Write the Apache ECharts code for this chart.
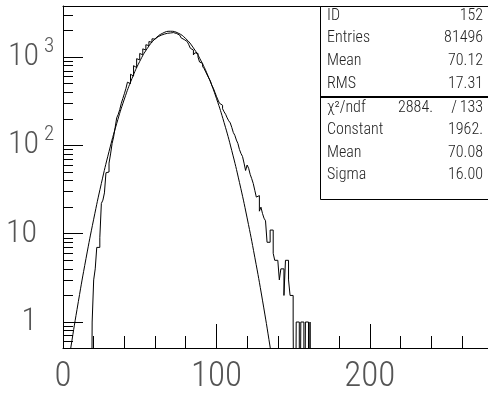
<!DOCTYPE html>
<html><head><meta charset="utf-8">
<script src="https://cdn.jsdelivr.net/npm/echarts@6/dist/echarts.min.js"></script>
<style>html,body{margin:0;padding:0;background:#fff}#c{width:488px;height:400px}</style>
</head><body><div id="c"></div>
<script>
// ---- data ----
const BIN_START = 0;      // first bin low edge
const BIN_WIDTH = 1;      // bin width
const histValues = [
  0,0,0,0,0,0,0,0,0,0, 0,0,0,0,0,0,0,0,0,1,
  3,4,7,7,9,22,24,29,49,50,
  63,80,105,125,160,205,225,255,300,340,
  385,440,520,500,640,610,800,760,960,930,
  1100,1060,1240,1200,1380,1350,1500,1470,1610,1600,
  1680,1700,1740,1770,1790,1820,1840,1860,1850,1875,
  1890,1895,1880,1850,1830,1780,1720,1650,1580,1560,
  1500,1450,1380,1260,1200,1060,1120,1100,1000,880,
  850,780,740,680,627,580,540,480,443,400,
  360,327,300,285,260,240,225,205,190,180,
  160,140,130,115,105,90,81,75,63,52,
  60,55,47,42,37,31,26,27,18,20,
  17,15,14,8,8,11,11,6,5,5,
  5,3,4,4,2,5,5,3,2,2,
  1,0,1,1,0,1,1,0,1,1,
  0,1,0
];
const fitX = [0,5,10,15,20,25,30,35,40,45,50,55,60,65,70,75,80,85,90,95,100,105,110,115,120,125,130,135,140];
const fitY = [0.134,0.50,1.70,5.24,14.6,37.1,85.2,177,335,574,893,1258,1609,1865,1962,1871,1619,1270,904,583,341,181,87.3,38.1,15.1,5.42,1.77,0.52,0.139];
const xTickLabels = [0, 100, 200];
const xMinorTicks = [20,40,60,80,120,140,160,180,220,240,260];
const yMajorTicks = [1, 10, 100, 1000];
const yMinorTicks = [0.6,0.7,0.8,0.9,2,3,4,5,6,7,8,9,20,30,40,50,60,70,80,90,200,300,400,500,600,700,800,900,2000,3000];
const statLabels = ['ID', 'Entries', 'Mean', 'RMS'];
const statValues = ['152', '81496', '70.12', '17.31'];
const chiLabel = 'χ²/ndf';
const chiValue = '2884.';
const ndfValue = '133';
const fitLabels = ['Constant', 'Mean', 'Sigma'];
const fitValues = ['1962.', '70.08', '16.00'];

// ---- build ----
const FONT = "'Roboto Condensed','Liberation Sans Narrow','DejaVu Sans Condensed','Noto Sans',sans-serif";
const LOG_FLOOR = 1e-3; // empty bins drawn down past the axis floor
const histData = histValues.map((v, i) => [BIN_START + i * BIN_WIDTH, v > 0 ? v : LOG_FLOOR]);
histData.push([BIN_START + histValues.length * BIN_WIDTH, LOG_FLOOR]);
const fitData = fitX.map((x, i) => [x, fitY[i]]);

const XMIN = 0, XMAX = 277;
const YMIN = 0.508, YMAX = 3790;
const chart = echarts.init(document.getElementById('c'), null, {renderer: 'canvas'});

const graphic = [
  {type: 'rect', z: 100, shape: {x: 320.5, y: 6.5, width: 200, height: 193}, style: {fill: '#fff', stroke: '#000', lineWidth: 1}},
  {type: 'line', z: 101, shape: {x1: 320.5, y1: 97, x2: 520, y2: 97}, style: {stroke: '#000', lineWidth: 2}}
];
const txt = (x, y, s, align) => ({type: 'text', z: 102, x: x, y: y,
  style: {text: s, fill: '#222', font: '300 16px ' + FONT, align: align, verticalAlign: 'middle'}});
statLabels.forEach((s, i) => {
  graphic.push(txt(327, 15.5 + 22.8 * i, s, 'left'));
  graphic.push(txt(483, 15.5 + 22.8 * i, statValues[i], 'right'));
});
graphic.push(txt(327, 107.5, chiLabel, 'left'));
graphic.push(txt(433, 107.5, chiValue, 'right'));
graphic.push(txt(454, 107.5, '/', 'center'));
graphic.push(txt(483, 107.5, ndfValue, 'right'));
fitLabels.forEach((s, i) => {
  graphic.push(txt(327, 130 + 22.6 * i, s, 'left'));
  graphic.push(txt(483, 130 + 22.6 * i, fitValues[i], 'right'));
});

const noSplit = {splitLine: {show: false}, minorSplitLine: {show: false}};
chart.setOption({
  animation: false,
  backgroundColor: '#fff',
  grid: {left: 63, top: 6, bottom: 52, right: 0, show: false, containLabel: false},
  xAxis: [{
    type: 'value', min: XMIN, max: XMAX, position: 'bottom', ...noSplit,
    axisLine: {show: true, onZero: false, lineStyle: {color: '#000', width: 1}},
    axisTick: {show: true, inside: true, length: 24, lineStyle: {color: '#000'}, customValues: xTickLabels},
    axisLabel: {show: true, fontSize: 35, fontWeight: 300, fontFamily: FONT, color: '#555', margin: 12,
      customValues: xTickLabels}
  }, {
    type: 'value', min: XMIN, max: XMAX, position: 'bottom', ...noSplit,
    axisLine: {show: false, onZero: false},
    axisTick: {show: true, inside: true, length: 12, lineStyle: {color: '#000'}, customValues: xMinorTicks},
    axisLabel: {show: false}
  }, {
    type: 'value', min: XMIN, max: XMAX, position: 'top', ...noSplit,
    axisLine: {show: true, onZero: false, lineStyle: {color: '#000', width: 1}},
    axisTick: {show: false}, axisLabel: {show: false}
  }],
  yAxis: [{
    type: 'log', logBase: 10, min: YMIN, max: YMAX, position: 'left', ...noSplit,
    axisLine: {show: true, onZero: false, lineStyle: {color: '#000', width: 1}},
    axisTick: {show: true, inside: true, length: 20, lineStyle: {color: '#000'}, customValues: yMajorTicks},
    axisLabel: {show: true, customValues: yMajorTicks, align: 'left', margin: 53,
      formatter: v => {
        const e = Math.round(Math.log10(v));
        if (e === 0) return '{b|1}';
        if (e === 1) return '{b|10}';
        return '{b|10}{s|' + e + '}';
      },
      rich: {
        b: {fontSize: 32, fontWeight: 300, fontFamily: FONT, color: '#555', width: 27, align: 'right', lineHeight: 42},
        s: {fontSize: 21, fontWeight: 300, fontFamily: FONT, color: '#555', lineHeight: 21, verticalAlign: 'top', padding: [0, 0, 0, 7]}
      }
    }
  }, {
    type: 'log', logBase: 10, min: YMIN, max: YMAX, position: 'left', ...noSplit,
    axisLine: {show: false, onZero: false},
    axisTick: {show: true, inside: true, length: 10, lineStyle: {color: '#000'}, customValues: yMinorTicks},
    axisLabel: {show: false}
  }],
  series: [{
    type: 'line', name: 'hist', data: histData, step: 'end', showSymbol: false, symbol: 'none',
    clip: true, lineStyle: {color: '#000', width: 1}, xAxisIndex: 0, yAxisIndex: 0
  }, {
    type: 'line', name: 'fit', data: fitData, smooth: 0.5, showSymbol: false, symbol: 'none',
    clip: true, lineStyle: {color: '#000', width: 1}, xAxisIndex: 0, yAxisIndex: 0
  }],
  graphic: graphic
});
</script></body></html>
